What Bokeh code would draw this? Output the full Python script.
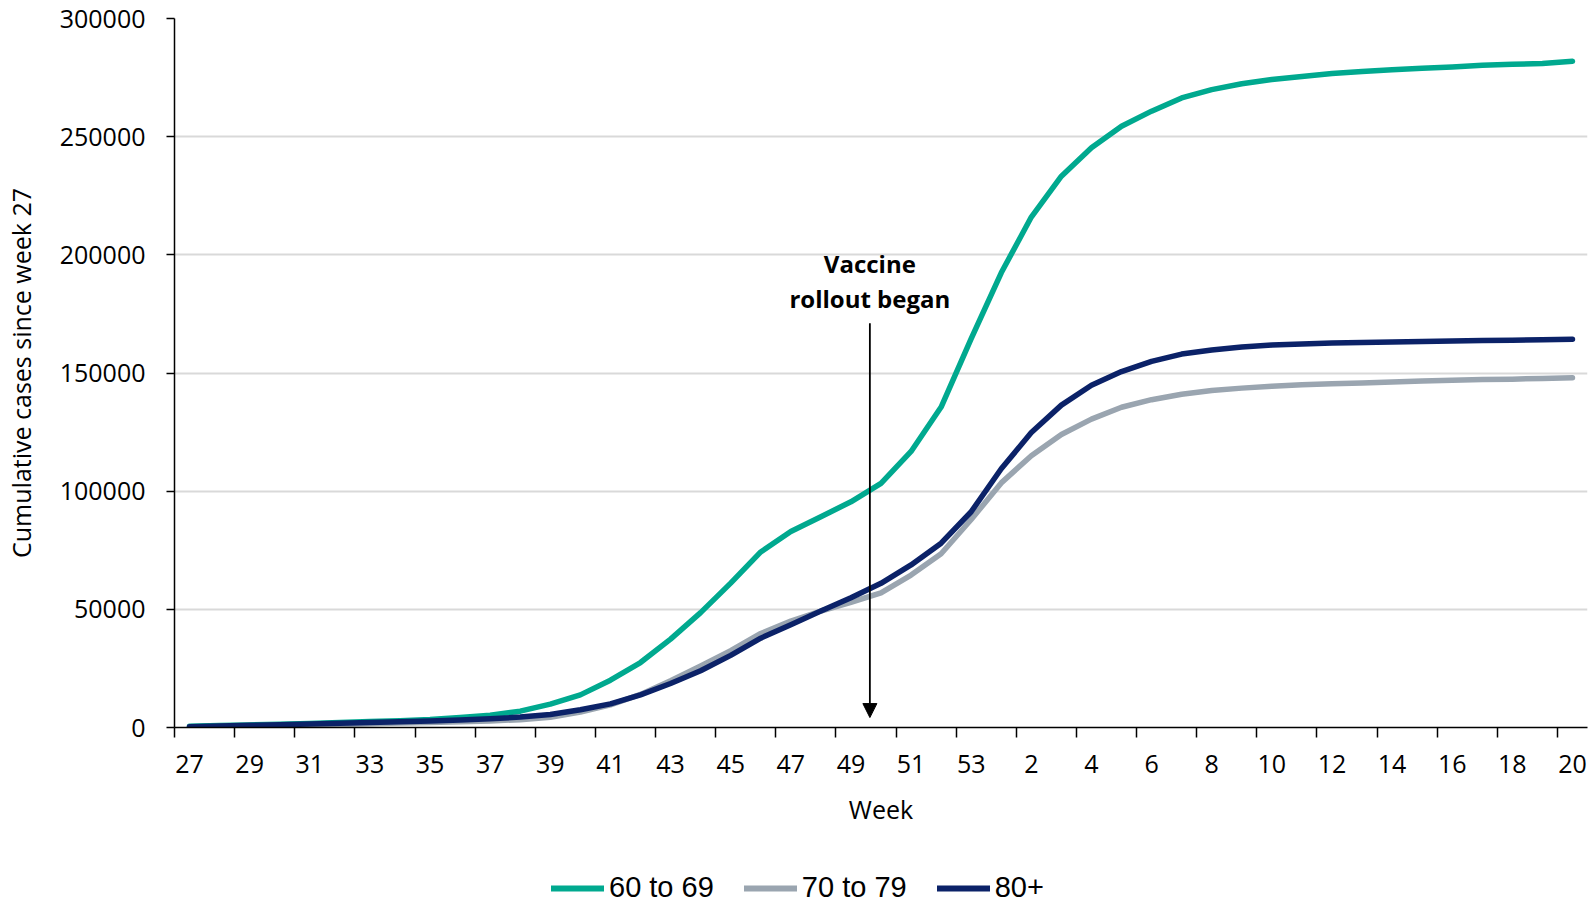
from bokeh.plotting import figure
from bokeh.layouts import column
from bokeh.models import (FixedTicker, Range1d, Legend, LegendItem, Label, Arrow,
                          NormalHead, CustomJSTickFormatter)
from bokeh.embed import file_html
from bokeh.resources import INLINE

weeks = [str(w) for w in range(27, 54)] + [str(w) for w in range(1, 21)]

age_60_69 = [500, 800, 1100, 1400, 1700, 2100, 2500, 2900, 3400, 4200, 5200, 6900,
             9900, 13800, 20000, 27500, 37400, 48600, 61100, 74300, 82900, 89200, 95500,
             103300, 116800, 135600, 164500, 192400, 216000, 233300, 245300, 254400,
             260800, 266400, 269900, 272400, 274200, 275500, 276700, 277600, 278300,
             278900, 279500, 280200, 280600, 281000, 281900]
age_70_79 = [200, 400, 700, 900, 1100, 1300, 1600, 1900, 2100, 2400, 2800, 3300,
             4300, 6500, 9600, 14000, 19800, 26000, 32500, 39800, 45000, 49300, 53000,
             57000, 64500, 73500, 88000, 103500, 115000, 124000, 130500, 135500,
             138700, 141000, 142600, 143600, 144400, 145000, 145500, 145800, 146200,
             146600, 146900, 147200, 147400, 147700, 148000]
age_80_plus = [300, 600, 900, 1200, 1500, 1800, 2100, 2400, 2800, 3200, 3700, 4400,
               5500, 7500, 10000, 13800, 18600, 24000, 30500, 37800, 43500, 49300, 54900,
               61000, 68800, 78000, 91300, 109500, 124800, 136400, 144800, 150600,
               154900, 158000, 159700, 161000, 161800, 162300, 162700, 162900, 163100,
               163300, 163500, 163700, 163900, 164100, 164300]

series_names = ["60 to 69", "70 to 79", "80+"]
series_colors = ["#00A98F", "#9AA5B0", "#0B2268"]
y_ticks = [0, 50000, 100000, 150000, 200000, 250000, 300000]
rollout_week_pos = 22.63  # position on the week index axis (between weeks 49 and 50)
arrow_top, arrow_tip = 171000, 4200

x = list(range(len(weeks)))

p = figure(width=1594, height=840, output_backend="svg", toolbar_location=None,
           x_range=Range1d(-0.5, len(weeks) - 0.5), y_range=Range1d(0, 300000),
           min_border_left=172, min_border_right=7, min_border_top=18,
           min_border_bottom=113)
p.outline_line_color = None

renderers = []
for vals, col in zip([age_60_69, age_70_79, age_80_plus], series_colors):
    r = p.line(x, vals, line_color=col, line_width=5.5, line_cap="round", line_join="round")
    renderers.append(r)

# x axis
label_idx = list(range(0, len(weeks), 2))
p.xaxis.ticker = FixedTicker(ticks=label_idx,
                             minor_ticks=[i - 0.5 for i in range(0, len(weeks), 2)])
p.xaxis.formatter = CustomJSTickFormatter(args=dict(labels=weeks),
                                          code="return labels[Math.round(tick)];")
p.xaxis.major_tick_out = 0
p.xaxis.major_tick_in = 0
p.xaxis.minor_tick_out = 10
p.xaxis.minor_tick_in = 0
p.xaxis.minor_tick_line_color = "black"
p.xaxis.minor_tick_line_width = 1.5
p.xaxis.axis_line_color = "black"
p.xaxis.axis_line_width = 1.5
p.xaxis.major_label_text_font = "Open Sans"
p.xaxis.major_label_text_font_size = "25px"
p.xaxis.major_label_text_color = "black"
p.xaxis.major_label_standoff = 17
p.xaxis.axis_label = "Week"
p.xaxis.axis_label_text_font = "Open Sans"
p.xaxis.axis_label_text_font_size = "25px"
p.xaxis.axis_label_text_font_style = "normal"
p.xaxis.axis_label_text_color = "black"
p.xaxis.axis_label_standoff = 16

# y axis
p.yaxis.ticker = FixedTicker(ticks=y_ticks)
p.yaxis.minor_tick_line_color = None
p.yaxis.major_tick_out = 8
p.yaxis.major_tick_in = 0
p.yaxis.major_tick_line_color = "black"
p.yaxis.major_tick_line_width = 1.5
p.yaxis.axis_line_color = "black"
p.yaxis.axis_line_width = 1.5
p.yaxis.major_label_text_font = "Open Sans"
p.yaxis.major_label_text_font_size = "25px"
p.yaxis.major_label_text_color = "black"
p.yaxis.major_label_standoff = 21
p.yaxis.formatter = CustomJSTickFormatter(code="return String(Math.round(tick));")
p.yaxis.axis_label = "Cumulative cases since week 27"
p.yaxis.axis_label_text_font = "Open Sans"
p.yaxis.axis_label_text_font_size = "25px"
p.yaxis.axis_label_text_font_style = "normal"
p.yaxis.axis_label_text_color = "black"
p.yaxis.axis_label_standoff = 19

p.xgrid.grid_line_color = None
p.ygrid.grid_line_color = "#D9D9D9"
p.ygrid.grid_line_width = 2
p.ygrid.ticker = FixedTicker(ticks=y_ticks)

# annotation
p.add_layout(Arrow(end=NormalHead(size=14, fill_color="black", line_color="black"),
                   x_start=rollout_week_pos, y_start=arrow_top,
                   x_end=rollout_week_pos, y_end=arrow_tip,
                   line_color="black", line_width=1.8))
p.add_layout(Label(x=rollout_week_pos, y=196400, text="Vaccine", text_align="center",
                   text_baseline="middle", text_font="Open Sans", text_font_size="24px",
                   text_font_style="bold", text_color="black"))
p.add_layout(Label(x=rollout_week_pos, y=181600, text="rollout began", text_align="center",
                   text_baseline="middle", text_font="Open Sans", text_font_size="24px",
                   text_font_style="bold", text_color="black"))

# legend in its own strip below the chart (frame aligned with the chart frame)
lg = figure(width=1594, height=64, output_backend="svg", toolbar_location=None,
            x_range=Range1d(0, 1), y_range=Range1d(0, 1),
            x_axis_location=None, y_axis_location=None,
            min_border_left=0, min_border_right=0, min_border_top=0, min_border_bottom=0)
lg.outline_line_color = None
lg.xgrid.grid_line_color = None
lg.ygrid.grid_line_color = None
leg_renderers = [lg.line([-10, -9], [-10, -9], line_color=c, line_width=6, line_cap="round")
                 for c in series_colors]
legend = Legend(items=[LegendItem(label=n, renderers=[r])
                       for n, r in zip(series_names, leg_renderers)],
                orientation="horizontal", location=(377, 0),
                glyph_width=53, glyph_height=30, label_height=30,
                label_standoff=5, spacing=30, padding=0, margin=0,
                label_text_font="Liberation Sans", label_text_font_size="29px",
                label_text_color="black", border_line_color=None,
                background_fill_alpha=0)
lg.add_layout(legend)

layout = column(p, lg, spacing=0)
open("out.html", "w").write(file_html(layout, INLINE))
